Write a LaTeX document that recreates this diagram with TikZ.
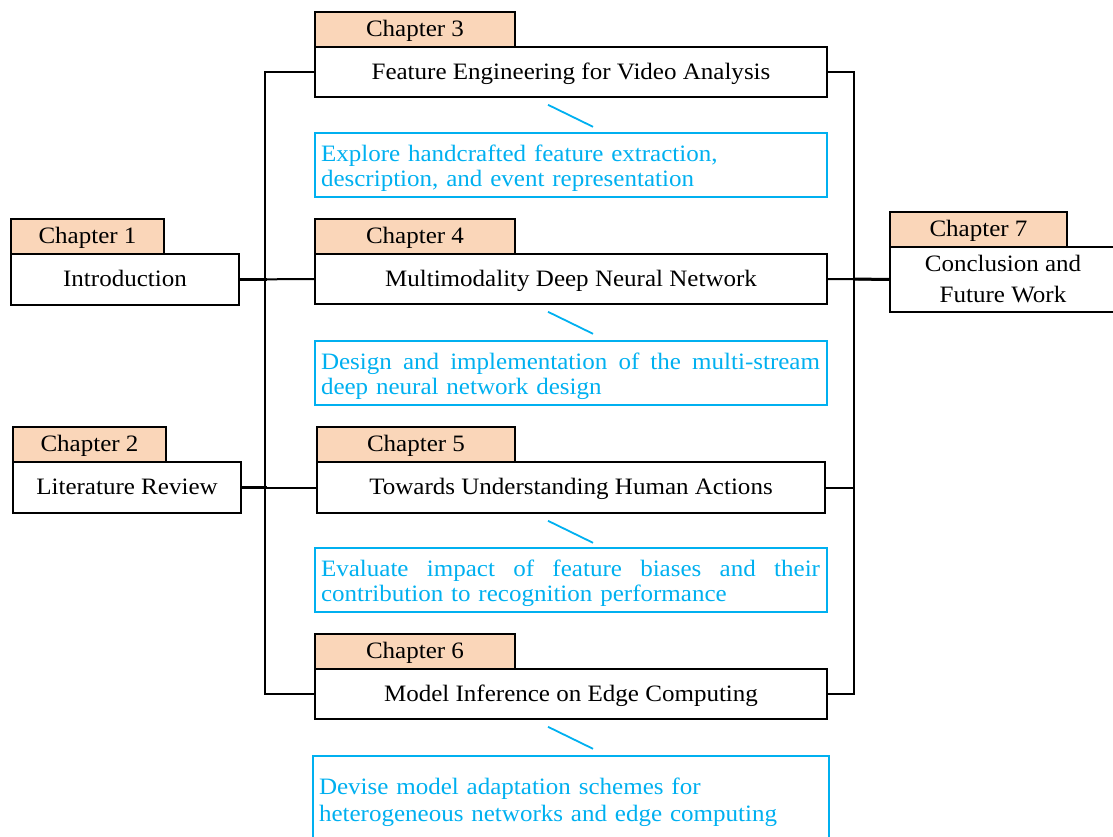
\documentclass[tikz,border=0pt]{standalone}
\usepackage{fontspec}
\setmainfont{Liberation Serif}[FakeStretch=1.065]
\usetikzlibrary{calc}
\definecolor{peach}{RGB}{250,214,185}
\definecolor{skyb}{RGB}{0,176,240}
\newcommand{\firstline}{\rule{0pt}{23pt}}
\begin{document}
\begin{tikzpicture}[x=1pt,y=-1pt,
  base/.style={draw=black,line width=1.6pt,rectangle,inner sep=0pt,font=\fontsize{23.5}{25.5}\selectfont},
  oneline/.style={base,text height=16pt,text depth=1.6pt},
  tabbox/.style={oneline,fill=peach,minimum height=35pt},
  mainbox/.style={oneline,fill=white,minimum height=50pt,minimum width=512pt},
  descbox/.style={draw=skyb,line width=1.6pt,rectangle,inner xsep=6pt,inner ysep=0pt,text=skyb,
    text width=500pt,align=left,minimum height=64pt,font=\fontsize{23.5}{25.5}\selectfont},
  conn/.style={draw=black,line width=2pt},
  thick conn/.style={draw=black,line width=3pt},
  slash/.style={draw=skyb,line width=1.8pt}
]
\path[use as bounding box] (0,0) rectangle (1113,837);
\clip (0,0) rectangle (1113,837);

% Chapter 3
\node[tabbox,minimum width=200pt] (t3) at (415,29.5) {Chapter 3};
\node[mainbox] (b3) at (571,72) {Feature Engineering for Video Analysis};
\node[descbox] (d3) at (571,165) {\firstline Explore handcrafted feature extraction,\\description, and event representation};
% Chapter 4
\node[tabbox,minimum width=200pt] (t4) at (415,236.5) {Chapter 4};
\node[mainbox] (b4) at (571,279) {Multimodality Deep Neural Network};
\node[descbox] (d4) at (571,373) {\leavevmode\hbox to 499pt{\firstline Design\hfill and\hfill implementation\hfill of\hfill the\hfill multi-stream}\\deep neural network design};
% Chapter 5
\node[tabbox,minimum width=198pt] (t5) at (416,444.5) {Chapter 5};
\node[mainbox,minimum width=508pt,minimum height=51pt] (b5) at (571,487.5) {Towards Understanding Human Actions};
\node[descbox] (d5) at (571,580) {\leavevmode\hbox to 499pt{\firstline Evaluate\hfill impact\hfill of\hfill feature\hfill biases\hfill and\hfill their}\\contribution to recognition performance};
% Chapter 6
\node[tabbox,minimum width=200pt] (t6) at (415,651.5) {Chapter 6};
\node[mainbox] (b6) at (571,694) {Model Inference on Edge Computing};
\node[descbox,text width=504pt,minimum height=86pt,font=\fontsize{23.5}{26.5}\selectfont] (d6) at (571,799) {\firstline Devise model adaptation schemes for\\heterogeneous networks and edge computing};
% Chapter 1
\node[tabbox,minimum width=153pt] (t1) at (87.5,236.5) {Chapter 1};
\node[oneline,fill=white,minimum width=228pt,minimum height=51pt] (b1) at (125,279.5) {Introduction};
% Chapter 2
\node[tabbox,minimum width=153pt] (t2) at (89.5,444.5) {Chapter 2};
\node[oneline,fill=white,minimum width=228pt,minimum height=51pt] (b2) at (127,487.5) {Literature Review};
% Chapter 7
\node[tabbox,minimum width=177pt] (t7) at (978.5,229.5) {Chapter 7};
\node[base,fill=white,minimum width=226pt,minimum height=65pt,align=center,font=\fontsize{23.5}{31}\selectfont] (b7) at (1003,279.5) {Conclusion and\\Future Work};

% slashes
\foreach \n in {3,4,5,6}{
  \draw[slash] ($(b\n.south)+(-23,7)$) -- ++(45,22);
}

% left bus
\draw[conn] (b3.west) -- ++(-49,0) |- (b6.west);
\draw[conn] (b1.east) -- (b4.west);
\draw[thick conn] (b1.east) -- ++(27,0);
\draw[conn] (b2.east) -- (b5.west);
\draw[thick conn] (b2.east) -- ++(25,0);
% right bus
\draw[conn] (b3.east) -- ++(26,0) |- (b6.east);
\draw[conn] (b4.east) -- (b7.west);
\draw[thick conn] ($(b4.east)+(26,0)$) -- (b7.west);
\draw[conn] (b5.east) -- ++(28,0);
\end{tikzpicture}
\end{document}
